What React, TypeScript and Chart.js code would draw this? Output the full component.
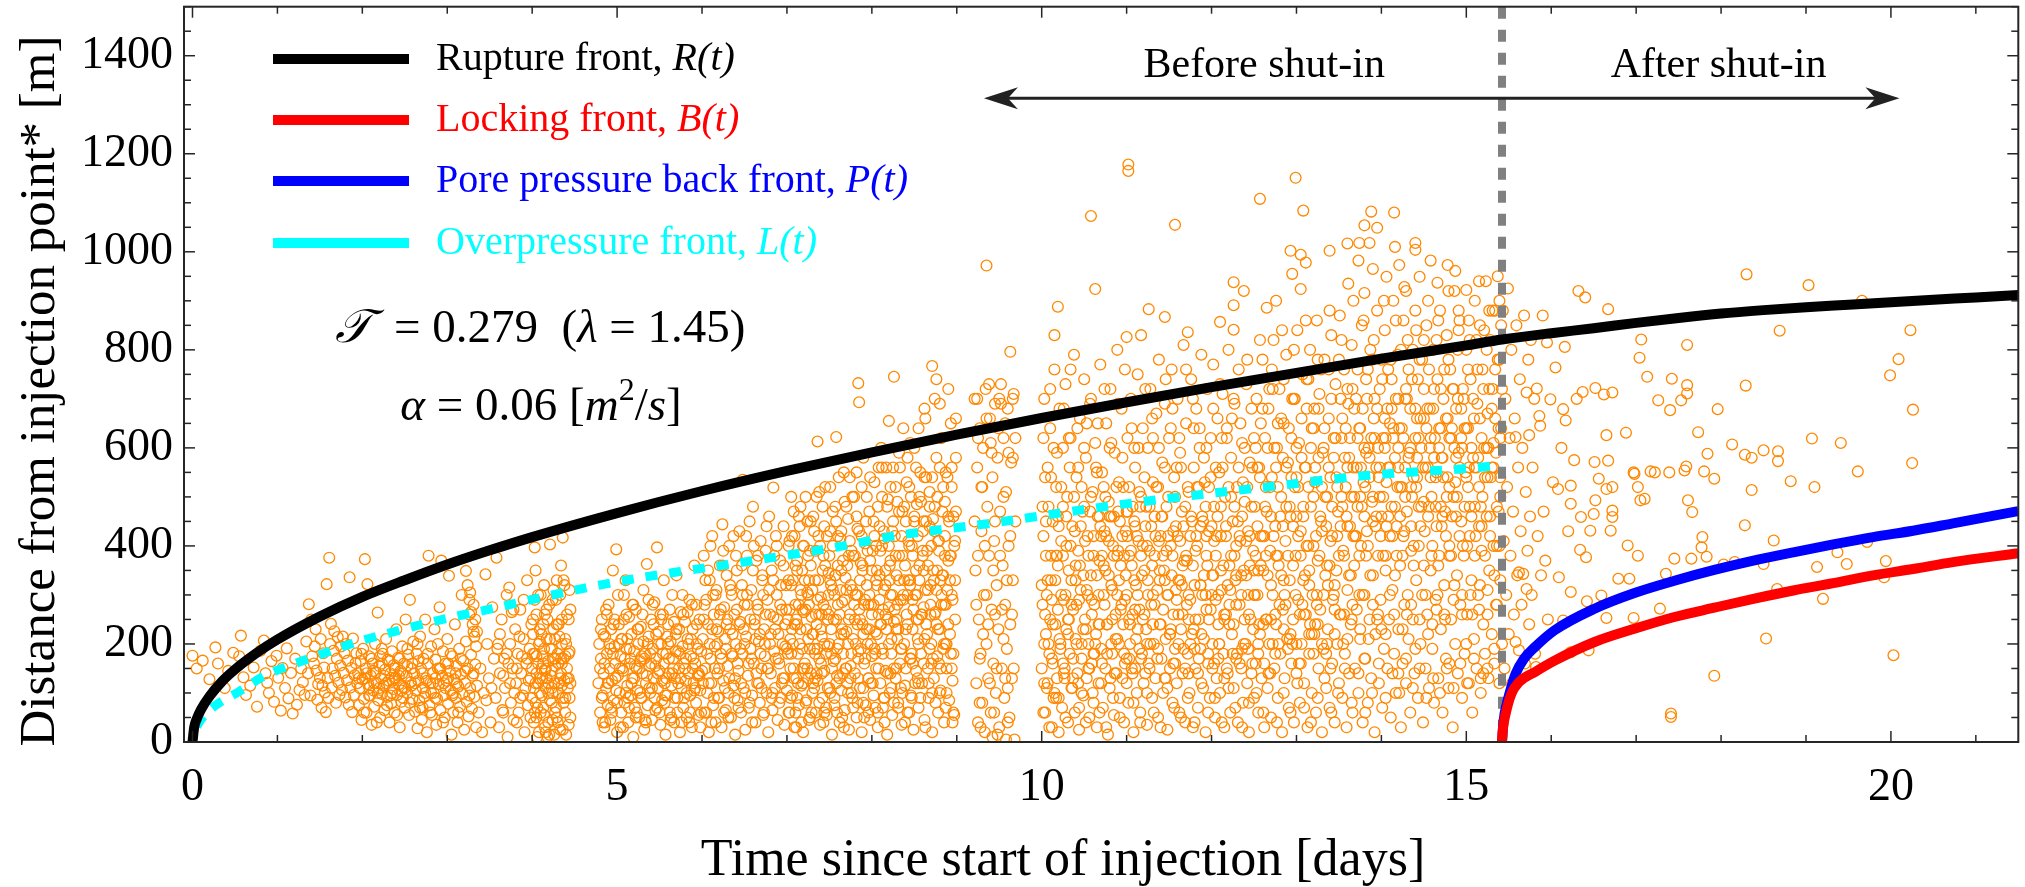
import React, { useEffect, useRef } from "react";
import { Chart, registerables } from "chart.js";

Chart.register(...registerables);

const SERIF = '"Liberation Serif", "DejaVu Serif", serif';

// ---------- axes ----------
const X_MIN = -0.1;
const X_MAX = 21.5;
const Y_MIN = 0;
const Y_MAX = 1500;
const xMajorTicks = [0, 5, 10, 15, 20];
const yMajorTicks = [0, 200, 400, 600, 800, 1000, 1200, 1400];
const xMinorStep = 1;
const yMinorStep = 50;
const xTitle = "Time since start of injection [days]";
const yTitle = "Distance from injection point* [m]";

// ---------- shut-in ----------
const shutInDay = 15.42;

// ---------- model fronts ----------
const ruptureDays = [0, 0.02, 0.05, 0.1, 0.2, 0.35, 0.5, 0.75, 1, 1.5, 2, 2.5, 3, 3.5, 4, 5, 6, 7, 8, 9, 10, 11, 12, 13, 14, 15, 15.42, 16, 16.5, 17, 17.5, 18, 18.5, 19, 19.5, 20, 20.5, 21, 21.5];
const ruptureDist = [0, 30, 47, 66, 93, 124, 148, 181, 209, 256, 296, 330, 362, 391, 418, 467, 512, 553, 591, 627, 661, 693, 724, 753, 782, 809, 821, 834, 844, 855, 865, 874, 881, 887, 892, 897, 902, 907, 912];

const overDays = [0.05, 0.1, 0.25, 0.53, 0.85, 1.37, 1.92, 2.48, 2.99, 3.5, 4.06, 4.62, 5.17, 5.75, 6.34, 6.89, 7.5, 8.29, 9.39, 10.49, 11.59, 12.69, 13.85, 15.0, 15.42];
const overDist = [32, 46, 72, 101, 135, 170, 203, 230, 252, 271, 293, 314, 332, 348, 363, 378, 395, 421, 446, 474, 499, 521, 544, 558, 565];

const poreDays = [15.42, 15.44, 15.48, 15.53, 15.58, 15.68, 15.81, 16.04, 16.51, 16.98, 17.45, 17.92, 18.38, 18.85, 19.32, 19.79, 20.26, 20.73, 21.5];
const poreDist = [0, 45, 80, 112, 139, 170, 194, 228, 272, 304, 329, 351, 370, 387, 403, 418, 431, 446, 471];

const lockDays = [15.42, 15.43, 15.46, 15.53, 15.62, 15.81, 16.04, 16.51, 16.98, 17.45, 17.92, 18.38, 18.85, 19.32, 19.79, 20.26, 20.73, 21.5];
const lockDist = [0, 25, 55, 98, 122, 143, 166, 204, 231, 255, 274, 292, 309, 324, 340, 353, 367, 385];

// ---------- seismic events: flat pairs [time in 0.01 day, distance m] ----------
const eventsEarly = [0,176, 5,150, 12,166, 20,128, 27,193, 30,160, 38,110, 42,145, 48,182, 55,175, 57,217, 60,132, 63,96, 68,115, 72,152, 76,72, 80,186, 84,207, 86,140, 88,121, 90,100, 93,165, 96,82, 99,176, 101,131, 104,64, 106,151, 109,110, 111,191, 113,89, 116,141, 118,58, 121,170, 123,76, 126,106, 128,150, 130,122,
132,96, 134,205, 136,140, 137,281, 139,95, 140,250, 141,175, 143,160, 144,195, 145,230, 146,146, 147,86, 148,118, 150,131, 151,210, 152,70, 153,115, 154,181, 155,152, 156,101, 157,61, 158,322, 159,130, 160,90, 161,376, 162,200, 163,241, 164,111, 165,150, 166,186, 167,226, 168,135, 169,80, 170,170, 171,214, 172,121, 173,96, 174,156, 175,195, 176,106, 177,215, 178,141, 179,181, 180,91, 181,200, 182,126, 183,166, 184,76, 185,336, 186,111, 187,151, 188,61, 189,211, 190,96, 191,136, 192,161, 193,181, 194,120];

const eventsDay2to4 = [195,140, 196,75, 197,110, 198,165, 199,45, 200,128, 201,190, 202,88, 203,373, 204,150, 205,60, 206,322, 207,118, 208,175, 209,95, 210,135, 211,35, 212,160, 213,105, 214,72, 215,200, 216,142, 217,120, 218,264, 219,85, 220,155, 221,50, 222,130, 223,98, 224,180, 225,115, 226,65, 227,148, 228,210, 229,92, 230,168, 231,125, 232,40, 233,140, 234,78, 235,185, 236,108, 237,157, 238,60, 239,132, 240,230, 241,96, 242,172, 243,118, 244,30, 245,145, 246,82, 247,195, 248,112, 249,160, 250,70, 251,250, 252,135, 253,100, 254,178, 255,55, 256,290, 257,122, 258,150, 259,88, 260,205,
203,130, 208,110, 213,145, 218,100, 223,160, 228,120, 233,95, 238,150, 243,135, 248,90, 253,155, 258,115, 221,175, 236,125, 246,105,
261,140, 262,62, 263,105, 264,180, 265,28, 266,125, 267,85, 268,215, 269,150, 270,45, 271,110, 272,170, 273,92, 274,250, 275,130, 276,20, 277,160, 278,380, 279,75, 280,120, 281,195, 282,55, 283,140, 284,100, 285,230, 286,168, 287,35, 288,88, 289,150, 290,118, 291,275, 292,65, 293,370, 294,135, 295,185, 296,95, 297,50, 298,160, 299,125, 300,210, 301,78, 302,339, 303,145, 304,105, 305,15, 306,175, 307,60, 308,128, 309,240, 310,90, 311,155, 312,40, 313,113, 314,190, 315,72, 316,138, 317,300, 318,98, 319,165, 320,25, 321,120, 322,205, 323,82, 324,150, 325,52, 326,260, 327,110, 328,178, 329,68, 330,135, 331,225, 332,92, 333,158, 334,30, 335,115,
266,165, 271,70, 276,125, 281,100, 286,130, 291,150, 296,120, 301,160, 306,95, 311,120, 316,170, 321,145, 326,95, 331,140,
322,349, 324,320, 326,290, 328,265, 330,240, 332,215, 334,195, 327,305, 331,280, 333,250, 335,225,
337,60, 339,150, 341,20, 343,100, 345,342, 347,200, 349,130, 351,40, 353,275, 355,170, 346,85, 352,110,
357,90, 358,376, 359,190, 361,30, 362,140, 364,250, 365,65, 367,170, 368,110, 370,300, 371,10, 373,315, 374,200, 375,80, 377,150, 378,45, 380,230, 381,120, 383,180, 384,60, 386,270, 387,140, 389,95, 390,210, 391,20, 393,160, 394,330, 395,75, 396,125, 397,190, 398,50, 399,240, 360,200, 366,135, 372,160, 379,100, 385,215, 392,110, 376,265, 382,40, 388,175,
400,150, 400,90, 401,220, 402,40, 403,397, 403,180, 404,120, 405,260, 406,70, 407,160, 408,200, 408,20, 409,130, 410,300, 411,95, 412,175, 413,240, 414,55, 415,145, 416,110, 417,210, 418,10, 419,165, 420,280, 421,403, 421,85, 422,135, 423,190, 424,45, 425,230, 426,120, 427,155, 428,70, 429,330, 430,180, 431,100, 432,215, 433,25, 434,140, 435,250, 436,417, 436,90, 437,170, 438,125, 439,60, 440,200, 441,150, 442,110, 443,35, 444,185, 445,270,
402,110, 405,175, 409,205, 412,130, 416,150, 419,100, 423,145, 427,210, 431,160, 435,115, 439,175, 443,130, 404,80, 414,190, 424,100, 434,170, 444,90, 418,250, 428,290, 438,320, 410,60, 420,15, 430,40, 440,15,
401,250, 403,60, 405,140, 407,300, 409,100, 411,220, 413,160, 415,30, 417,270, 419,120, 421,190, 423,80, 425,310, 427,170, 429,50, 431,240, 433,130, 435,200, 437,330, 439,90, 441,260, 443,180, 445,120, 404,350, 414,320, 424,290, 434,360, 444,310, 406,10, 416,20, 426,15, 436,25, 362,220, 366,60, 370,180, 374,120, 378,270, 382,150, 386,90, 390,290, 394,170, 398,130,
196,130, 199,180, 202,60, 205,140, 208,95, 211,170, 214,120, 217,40, 220,110, 223,190, 226,135, 229,75, 232,165, 235,100, 238,130, 241,55, 244,170, 247,140, 250,110, 253,190, 256,80, 259,160, 262,120, 265,200, 268,70, 271,140, 274,100, 277,180, 280,60, 283,120, 286,90, 289,200, 292,150, 295,40, 298,110, 301,130, 304,180, 307,100, 310,140, 313,60,
401,180, 403,290, 405,50, 407,120, 409,230, 411,150, 413,70, 415,260, 417,130, 419,40, 421,210, 423,110, 425,170, 427,60, 429,240, 431,120, 433,300, 435,160, 437,80, 439,210, 441,130, 443,250, 445,50];

const eventsDay5to7 = [478,120, 479,200, 480,60, 481,170, 482,250, 483,95, 484,140, 485,30, 486,215, 487,110, 488,180, 489,75, 490,280, 491,150, 492,45, 493,230, 494,125, 495,350, 496,85, 497,195, 498,160, 499,393, 500,20, 501,135, 502,240, 503,100, 504,175, 505,60, 506,210, 507,145, 508,300, 509,80, 510,330, 511,190, 512,115, 513,40, 514,255, 515,160, 516,95, 517,220, 518,130, 519,10, 520,185, 521,70, 522,270, 523,150, 524,105, 525,200, 526,50, 527,165, 528,235, 529,90, 530,140, 531,310, 532,25, 533,180, 534,120, 535,363, 536,75, 537,215, 538,155, 539,100, 540,250, 541,45, 542,190, 543,130, 544,285, 545,65, 546,170, 547,397, 548,110, 549,225, 550,145, 551,35, 552,200, 553,85, 554,260, 555,160, 556,120, 557,15, 558,180, 559,95, 560,240, 561,140, 562,60, 563,205, 564,115, 565,300, 566,170, 567,40, 568,130, 569,220, 570,340, 571,90, 572,185, 573,150, 574,20, 575,265, 576,110, 577,195, 578,70, 579,160, 580,245, 581,125, 582,50, 583,210, 584,140, 585,290, 586,95, 587,175, 588,30, 589,230, 590,120, 591,360, 592,160, 593,80, 594,200, 595,135, 596,55, 597,250, 598,105, 599,185, 600,145,
601,210, 602,380, 603,60, 604,150, 605,290, 606,100, 607,240, 608,20, 609,330, 610,170, 611,120, 612,420, 613,75, 614,260, 615,195, 616,40, 617,310, 618,140, 619,225, 620,90, 621,360, 622,180, 623,30, 624,444, 625,125, 626,275, 627,210, 628,65, 629,340, 630,155, 631,100, 632,400, 633,230, 634,50, 635,300, 636,175, 637,115, 638,260, 639,15, 640,200, 641,350, 642,85, 643,145, 644,430, 645,245, 646,60, 647,320, 648,535, 648,180, 649,110, 650,280, 651,25, 652,215, 653,380, 654,135, 655,70, 656,450, 657,190, 658,310, 659,95, 660,480, 661,160, 662,240, 663,40, 664,370, 665,120, 666,270, 667,205, 668,80, 669,410, 670,150, 671,330, 672,55, 673,230, 674,175, 675,390, 676,100, 677,290, 678,20, 679,460, 680,200, 681,140, 682,350, 683,65, 684,519, 684,255, 685,185, 686,110, 687,420, 688,300, 689,45, 690,220, 691,160, 692,370, 693,90, 694,270, 695,130, 696,440, 697,35, 698,195, 699,320, 700,105,
481,230, 483,40, 485,160, 487,270, 489,120, 491,200, 493,70, 495,180, 497,250, 499,105, 501,300, 503,150, 505,210, 507,30, 509,170, 511,260, 513,90, 515,190, 517,120, 519,280, 521,155, 523,60, 525,230, 527,100, 529,175, 531,205, 533,45, 535,135, 537,290, 539,180, 541,110, 543,240, 545,155, 547,70, 549,200, 551,260, 553,125, 555,330, 557,95, 559,215, 561,170, 563,45, 565,140, 567,245, 569,185, 571,60, 573,230, 575,130, 577,300, 579,90, 581,170, 583,265, 585,40, 587,210, 589,150, 591,105, 593,280, 595,190, 597,135, 599,60, 602,250, 604,330, 606,180, 608,120, 610,400, 612,230, 614,90, 616,300, 618,200, 620,150, 622,270, 624,360, 626,60, 628,190, 630,250, 632,130, 634,310, 636,220, 638,90, 640,380, 642,160, 644,240, 646,120, 648,300, 650,200, 652,420, 654,280, 656,80, 658,170, 660,350, 662,250, 664,140, 666,380, 668,220, 670,110, 672,300, 674,200, 676,440, 678,150, 680,260, 682,90, 684,330, 686,230, 688,400, 690,170, 692,280, 694,120, 696,360, 698,240, 700,190,
480,150, 482,90, 484,220, 486,40, 488,260, 490,120, 492,190, 494,60, 496,240, 498,130, 500,80, 502,200, 504,30, 506,150, 508,250, 510,100, 512,210, 514,70, 516,170, 518,280, 520,130, 522,50, 524,230, 526,150, 528,90, 530,260, 532,170, 534,40, 536,200, 538,110, 540,160, 542,280, 544,90, 546,220, 548,140, 550,60, 552,250, 554,180, 556,80, 558,130, 560,200, 562,270, 564,50, 566,150, 568,90, 570,230, 572,120, 574,180, 576,40, 578,260, 580,150, 582,100, 584,200, 586,60, 588,280, 590,170, 592,110, 594,240, 596,140, 598,30,
601,120, 603,280, 605,60, 607,350, 609,200, 611,40, 613,300, 615,150, 617,230, 619,90, 621,260, 623,170, 625,390, 627,110, 629,240, 631,50, 633,320, 635,180, 637,420, 639,130, 641,270, 643,70, 645,190, 647,360, 649,230, 651,100, 653,300, 655,160, 657,250, 659,40, 661,400, 663,210, 665,280, 667,120, 669,180, 671,340, 673,60, 675,260, 677,150, 679,310, 681,220, 683,100, 685,380, 687,170, 689,250, 691,80, 693,320, 695,200, 697,130, 699,270];

const eventsDay7to10 = [701,250, 702,60, 703,410, 704,150, 705,320, 706,95, 707,200, 708,470, 709,30, 710,280, 711,130, 712,370, 713,180, 714,75, 715,440, 716,230, 717,115, 718,350, 719,20, 720,265, 721,160, 722,500, 723,85, 724,305, 725,210, 726,45, 727,390, 728,140, 729,255, 730,100, 731,460, 732,190, 733,330, 734,60, 735,240, 736,613, 736,125, 737,420, 738,170, 739,35, 740,295, 741,215, 742,90, 743,380, 744,145, 745,520, 746,270, 747,55, 748,195, 749,345, 750,110, 751,430, 752,230, 753,15, 754,310, 755,165, 756,75, 757,480, 758,622, 758,250, 759,135, 760,360, 761,200, 762,40, 763,415, 764,105, 765,285, 766,180, 767,550, 768,65, 769,335, 770,225, 771,120, 772,455, 773,25, 774,260, 775,155, 776,390, 777,90, 778,210, 779,500, 780,140, 781,300, 782,50, 783,435, 784,732, 784,185, 785,693, 785,270, 786,110, 787,365, 788,20, 789,240, 790,580, 791,160, 792,405, 793,75, 794,320, 795,200, 796,130, 797,470, 798,45, 799,280, 800,175, 801,390, 802,95, 803,530, 804,225, 805,150, 806,350, 807,30, 808,260, 809,440, 810,120, 811,600, 812,190, 813,70, 814,310, 815,415, 816,145, 817,230, 818,15, 819,495, 820,275, 821,100, 822,370, 823,180, 824,55, 825,560, 826,245, 827,420, 828,130, 829,340, 830,210, 831,80, 832,470, 833,160, 834,290, 835,35, 836,380, 837,640, 838,200, 839,115, 840,450, 841,260, 842,60, 843,330, 844,520, 845,170, 846,95, 847,400, 848,230, 849,25, 850,600, 851,300, 852,145, 853,485, 854,210, 855,70, 856,360, 857,550, 858,180, 859,120, 860,430, 861,275, 862,45, 863,660, 864,240, 865,390, 866,150, 867,90, 868,510, 869,320, 870,200, 871,20, 872,455, 873,130, 874,700, 875,265, 876,580, 877,175, 878,60, 879,410, 880,230, 881,105, 882,620, 883,340, 884,190, 885,40, 886,490, 887,280, 888,150, 889,540, 890,370, 891,85, 892,220, 893,650, 894,300, 895,125, 896,460, 897,55, 898,250, 899,580,
705,180, 712,240, 718,150, 725,300, 731,120, 738,260, 744,200, 751,330, 757,170, 764,220, 770,150, 777,310, 783,240, 790,110, 796,280, 803,190, 809,340, 816,260, 822,140, 829,230, 835,190, 842,300, 848,160, 855,250, 861,350, 868,190, 874,260, 881,330, 887,200, 894,150, 826,745, 871,767, 876,740, 862,680, 845,610, 855,640, 880,690, 890,720, 899,660, 820,655, 832,590, 812,560,
702,330, 704,210, 706,420, 708,130, 710,360, 712,90, 714,280, 716,480, 718,190, 720,400, 722,270, 724,150, 726,330, 728,450, 730,220, 732,110, 734,390, 736,290, 738,510, 740,160, 742,350, 744,440, 746,70, 748,250, 750,380, 752,180, 754,470, 756,300, 758,120, 760,420, 762,260, 764,350, 766,140, 768,490, 770,310, 772,200, 774,540, 776,100, 778,380, 780,250, 782,460, 784,170, 786,330, 788,420, 790,220, 792,290, 794,500, 796,130, 798,370, 800,260, 802,450, 804,180, 806,320, 808,560, 810,240, 812,400, 814,90, 816,350, 818,480, 820,200, 822,300, 824,430, 826,150, 828,520, 830,280, 832,380, 834,110, 836,470, 838,330, 840,230, 842,580, 844,400, 846,170, 848,290, 850,450, 852,350, 854,130, 856,500, 858,260, 860,390, 862,210, 864,540, 866,310, 868,440, 870,160, 872,350, 874,480, 876,240, 878,410, 880,100, 882,300, 884,520, 886,380, 888,200, 890,460, 892,330, 894,560, 896,180, 898,410,
703,60, 711,30, 719,120, 727,50, 735,140, 743,40, 751,100, 759,60, 767,30, 775,130, 783,80, 791,50, 799,120, 807,60, 815,40, 823,110, 831,70, 839,40, 847,90, 855,120, 863,30, 871,100, 879,160, 887,70, 895,40,
709,240, 717,300, 725,380, 733,180, 741,260, 749,300, 757,340, 765,230, 773,380, 781,300, 789,350, 797,230, 805,400, 813,270, 821,360, 829,250, 837,300, 845,330, 853,250, 861,450, 869,280, 877,350, 885,280, 893,380,
701,180, 702,400, 703,270, 704,90, 705,500, 706,230, 707,330, 708,150, 709,420, 710,60, 711,250, 712,350, 713,120, 714,460, 715,200, 716,310, 717,40, 718,270, 719,400, 720,150, 721,330, 722,80, 723,230, 724,450, 725,130, 726,280, 727,190, 728,360, 729,60, 730,310, 731,220, 732,430, 733,130, 734,260, 735,500, 736,190, 737,330, 738,80, 739,400, 740,230, 741,140, 742,480, 743,280, 744,60, 745,360, 746,180, 747,420, 748,110, 749,260, 750,200, 751,520, 752,320, 753,150, 754,400, 755,250, 756,90, 757,340, 758,450, 759,190, 760,280, 761,540, 762,130, 763,310, 764,430, 765,50, 766,370, 767,220, 768,290, 769,150, 770,480, 771,360, 772,100, 773,250, 774,410, 775,320, 776,180, 777,500, 778,70, 779,280, 780,380, 781,200, 782,550, 783,300, 784,130, 785,430, 786,250, 787,190, 788,520, 789,360, 790,80, 791,280, 792,170, 793,450, 794,230, 795,390, 796,60, 797,300, 798,540, 799,200, 800,350, 801,120, 802,280, 803,420, 804,70, 805,330, 806,220, 807,480, 808,150, 809,290, 810,390, 811,240, 812,500, 813,180, 814,430, 815,90, 816,320, 817,560, 818,250, 819,140, 820,400, 821,330, 822,520, 823,210, 824,300, 825,450, 826,80, 827,270, 828,380, 829,150, 830,490, 831,230, 832,330, 833,560, 834,190, 835,420, 836,100, 837,290, 838,480, 839,360, 840,150, 841,530, 842,240, 843,410, 844,60, 845,320, 846,500, 847,180, 848,380, 849,270, 850,460, 851,120, 852,560, 853,300, 854,420, 855,200, 856,330, 857,90, 858,490, 859,260, 860,380, 861,160, 862,540, 863,310, 864,450, 865,220, 866,360, 867,120, 868,480, 869,260, 870,400, 871,540, 872,170, 873,330, 874,430, 875,80, 876,310, 877,500, 878,230, 879,390, 880,560, 881,150, 882,280, 883,470, 884,340, 885,200, 886,420, 887,550, 888,100, 889,310, 890,240, 891,450, 892,380, 893,180, 894,520, 895,290, 896,60, 897,400, 898,330, 899,470,
921,700, 922,350, 923,120, 924,560, 925,40, 926,250, 927,640, 928,180, 929,430, 930,80, 931,600, 932,300, 933,20, 934,720, 935,972, 935,200, 936,480, 937,130, 938,380, 939,660, 940,60, 941,270, 942,540, 943,160, 944,410, 945,690, 946,100, 947,320, 948,580, 949,230, 950,30, 951,470, 952,730, 953,150, 954,360, 955,620, 956,90, 957,280, 958,510, 959,190, 960,680, 961,400, 962,50, 963,796, 963,240, 964,570, 965,130, 966,330, 967,710, 968,5, 969,450, 960,110, 925,380, 930,520, 940,610, 950,700, 955,210, 945,450, 935,300, 927,80, 957,650, 966,580, 942,10, 948,15, 958,5,
921,450, 923,280, 925,620, 927,170, 929,520, 931,220, 933,400, 935,660, 937,240, 939,120, 941,590, 943,350, 945,260, 947,150, 949,640, 951,380, 953,270, 955,500, 957,130, 959,330, 961,590, 963,420, 965,260, 967,150, 969,620, 924,700, 938,730, 952,690, 966,700, 928,30, 944,60, 960,40];

const eventsDay10to12 = [1000,150, 1001,480, 1002,60, 1003,700, 1004,260, 1005,380, 1006,110, 1007,560, 1008,200, 1009,30, 1010,640, 1011,330, 1012,170, 1013,450, 1014,90, 1015,830, 1015,760, 1016,240, 1017,520, 1018,130, 1019,888, 1019,360, 1020,20, 1021,680, 1022,190, 1023,410, 1024,70, 1025,600, 1026,290, 1027,150, 1028,730, 1029,230, 1030,500, 1031,40, 1032,350, 1033,180, 1034,620, 1035,110, 1036,440, 1037,270, 1038,790, 1039,60, 1040,210, 1041,540, 1042,140, 1043,390, 1044,25, 1045,660, 1046,310, 1047,170, 1048,470, 1049,95, 1050,740, 1051,250, 1052,580, 1053,130, 1054,420, 1055,200, 1056,50, 1057,690, 1058,1073, 1058,340, 1059,160, 1060,510, 1061,80, 1062,280, 1063,924, 1063,610, 1064,220, 1065,30, 1066,460, 1067,120, 1068,370, 1069,770, 1070,190, 1071,550, 1072,70, 1073,300, 1074,430, 1075,150, 1076,650, 1077,240, 1078,15, 1079,490, 1080,110, 1081,720, 1082,320, 1083,180, 1084,400, 1085,55, 1086,590, 1087,260, 1088,140, 1089,800, 1090,470, 1091,200, 1092,90, 1093,360, 1094,680, 1095,130, 1096,520, 1097,40, 1098,290, 1099,430, 1100,826, 1100,170, 1101,620, 1102,1178, 1102,1165, 1102,80, 1103,380, 1104,240, 1105,700, 1106,150, 1107,480, 1108,20, 1109,330, 1110,560, 1111,210, 1112,100, 1113,750, 1114,410, 1115,270, 1116,60, 1117,830, 1117,500, 1118,180, 1119,640, 1120,120, 1121,350, 1122,440, 1123,230, 1124,35, 1125,600, 1126,883, 1126,160, 1127,390, 1128,720, 1129,280, 1130,90, 1131,530, 1132,200, 1133,460, 1134,130, 1135,670, 1136,310, 1137,50, 1138,780, 1139,240, 1140,420, 1141,170, 1142,570, 1143,100, 1144,350, 1145,867, 1145,690, 1146,210, 1147,480, 1148,25, 1149,300, 1150,620, 1151,150, 1152,400, 1153,760, 1154,80, 1155,260, 1156,540, 1157,1055, 1157,190, 1158,440, 1159,120, 1160,700, 1161,330, 1162,60, 1163,590, 1164,230, 1165,470, 1166,140, 1167,810, 1168,370, 1169,40, 1170,650, 1171,280, 1172,836, 1172,180, 1173,510, 1174,100, 1175,420, 1176,740, 1177,220, 1178,30, 1179,560, 1180,320, 1181,150, 1182,680, 1183,400, 1184,70, 1185,250, 1186,600, 1187,190, 1188,790, 1189,460, 1190,110, 1191,340, 1192,530, 1193,20, 1194,270, 1195,720, 1196,160, 1197,430, 1198,90, 1199,620, 1200,300, 1201,200, 1202,770, 1203,480, 1204,50, 1205,380, 1206,130, 1207,660, 1208,240, 1209,550, 1210,857, 1210,100, 1211,420, 1212,310, 1213,710, 1214,180, 1215,30, 1216,500, 1217,260, 1218,640, 1219,140, 1220,800, 1221,360, 1222,60, 1223,580, 1224,220, 1225,450, 1226,938, 1226,891, 1226,841, 1226,110, 1227,690, 1228,330, 1229,170, 1230,520, 1231,40, 1232,760, 1233,280, 1234,410, 1235,150, 1236,610, 1237,80, 1238,920, 1238,350, 1239,490, 1240,200, 1241,730, 1242,120, 1243,430, 1244,20, 1245,570, 1246,250, 1247,680, 1248,160, 1249,390, 1250,90,
1005,220, 1012,290, 1018,380, 1025,160, 1032,250, 1040,330, 1047,200, 1054,300, 1061,180, 1068,240, 1075,350, 1082,200, 1089,300, 1096,240, 1103,170, 1110,270, 1117,380, 1124,200, 1131,300, 1138,410, 1145,330, 1152,230, 1159,290, 1166,360, 1173,250, 1180,190, 1187,320, 1194,420, 1201,340, 1208,170, 1215,260, 1222,310, 1229,400, 1236,190, 1243,300, 1250,350, 1070,420, 1080,460, 1090,390, 1100,470, 1110,440,
1001,280, 1003,120, 1005,450, 1007,330, 1009,180, 1011,540, 1013,240, 1015,100, 1017,380, 1019,460, 1021,210, 1023,300, 1025,480, 1027,130, 1029,400, 1031,250, 1033,560, 1035,330, 1037,170, 1039,430, 1041,280, 1043,120, 1045,360, 1047,520, 1049,230, 1051,410, 1053,310, 1055,150, 1057,470, 1059,260, 1061,380, 1063,200, 1065,550, 1067,300, 1069,440, 1071,160, 1073,360, 1075,500, 1077,240, 1079,410, 1081,130, 1083,310, 1085,460, 1087,210, 1089,380, 1091,530, 1093,270, 1095,420, 1097,180, 1099,340, 1101,470, 1103,250, 1105,390, 1107,140, 1109,450, 1111,320, 1113,230, 1115,510, 1117,170, 1119,400, 1121,260, 1123,480, 1125,330, 1127,150, 1129,440, 1131,240, 1133,380, 1135,520, 1137,190, 1139,350, 1141,460, 1143,270, 1145,130, 1147,390, 1149,500, 1151,220, 1153,340, 1155,430, 1157,160, 1159,560, 1161,260, 1163,410, 1165,320, 1167,190, 1169,480, 1171,370, 1173,140, 1175,290, 1177,450, 1179,230, 1181,390, 1183,520, 1185,170, 1187,440, 1189,300, 1191,210, 1193,480, 1195,360, 1197,250, 1199,540, 1201,150, 1203,410, 1205,290, 1207,460, 1209,200, 1211,350, 1213,560, 1215,130, 1217,420, 1219,320, 1221,240, 1223,500, 1225,180, 1227,380, 1229,280, 1231,450, 1233,160, 1235,340, 1237,530, 1239,250, 1241,410, 1243,190, 1245,360, 1247,480, 1249,230,
1002,620, 1010,720, 1018,590, 1026,680, 1034,760, 1042,640, 1050,600, 1058,700, 1066,650, 1074,720, 1082,610, 1090,690, 1098,760, 1106,640, 1114,600, 1122,720, 1130,660, 1138,600, 1146,740, 1154,680, 1162,620, 1170,760, 1178,700, 1186,640, 1194,600, 1202,680, 1210,730, 1218,620, 1226,700, 1234,650, 1242,780, 1250,620,
1004,60, 1012,30, 1020,90, 1028,50, 1036,110, 1044,70, 1052,40, 1060,100, 1068,60, 1076,30, 1084,90, 1092,50, 1100,120, 1108,80, 1116,40, 1124,100, 1132,60, 1140,30, 1148,110, 1156,70, 1164,50, 1172,90, 1180,40, 1188,120, 1196,60, 1204,90, 1212,40, 1220,110, 1228,70, 1236,30, 1244,80,
1000,320, 1002,420, 1003,200, 1004,540, 1006,300, 1007,120, 1008,480, 1010,250, 1011,380, 1013,160, 1014,600, 1016,330, 1017,90, 1019,270, 1020,440, 1022,200, 1023,520, 1025,380, 1026,140, 1028,300, 1029,460, 1031,220, 1032,620, 1034,400, 1035,280, 1037,130, 1038,500, 1040,360, 1041,200, 1043,560, 1044,290, 1046,440, 1047,100, 1049,340, 1050,480, 1052,230, 1053,650, 1055,380, 1056,150, 1058,500, 1059,290, 1061,420, 1062,180, 1064,560, 1065,340, 1067,240, 1068,460, 1070,120, 1071,380, 1073,520, 1074,280, 1076,420, 1077,180, 1079,340, 1080,600, 1082,460, 1083,250, 1085,380, 1086,140, 1088,520, 1089,210, 1091,330, 1092,450, 1094,280, 1095,580, 1097,380, 1098,160, 1100,300, 1101,420, 1103,520, 1104,200, 1106,360, 1107,260, 1109,600, 1110,150, 1112,420, 1113,300, 1115,190, 1116,480, 1118,340, 1119,250, 1121,540, 1122,140, 1124,400, 1125,300, 1127,480, 1128,200, 1130,360, 1131,620, 1133,280, 1134,420, 1136,170, 1137,520, 1139,330, 1140,240, 1142,460, 1143,380, 1145,560, 1146,130, 1148,300, 1149,420, 1151,220, 1152,640, 1154,380, 1155,160, 1157,500, 1158,310, 1160,420, 1161,200, 1163,330, 1164,560, 1166,260, 1167,440, 1169,150, 1170,380, 1172,520, 1173,300, 1175,200, 1176,460, 1178,360, 1179,640, 1181,250, 1182,420, 1184,140, 1185,520, 1187,320, 1188,220, 1190,450, 1191,580, 1193,300, 1194,380, 1196,180, 1197,520, 1199,270, 1200,440, 1202,340, 1203,160, 1205,560, 1206,420, 1208,300, 1209,200, 1211,480, 1212,620, 1214,360, 1215,250, 1217,440, 1218,150, 1220,520, 1221,280, 1223,380, 1224,660, 1226,240, 1227,480, 1229,340, 1230,180, 1232,560, 1233,420, 1235,300, 1236,460, 1238,200, 1239,600, 1241,340, 1242,520, 1244,260, 1245,420, 1247,140, 1248,560, 1250,300];

const eventsDay12to15 = [1251,480, 1252,160, 1253,700, 1254,300, 1255,60, 1256,560, 1257,1108, 1257,220, 1258,420, 1259,130, 1260,780, 1261,350, 1262,30, 1263,620, 1264,250, 1265,886, 1265,470, 1266,110, 1267,680, 1268,200, 1269,390, 1270,50, 1271,540, 1272,300, 1273,820, 1274,150, 1275,440, 1276,900, 1276,240, 1277,600, 1278,90, 1279,360, 1280,720, 1281,180, 1282,500, 1283,20, 1284,270, 1285,650, 1286,130, 1287,410, 1288,790, 1289,210, 1290,570, 1291,70, 1292,330, 1293,1002, 1293,460, 1294,160, 1295,955, 1295,700, 1296,250, 1297,40, 1298,520, 1299,1151, 1299,380, 1300,140, 1301,840, 1302,290, 1303,610, 1304,80, 1305,994, 1305,924, 1305,430, 1306,200, 1307,750, 1308,1084, 1308,330, 1309,120, 1310,560, 1311,978, 1311,260, 1312,680, 1313,30, 1314,400, 1315,180, 1316,800, 1317,480, 1318,100, 1319,300, 1320,640, 1321,220, 1322,530, 1323,60, 1324,860, 1325,370, 1326,150, 1327,710, 1328,270, 1329,450, 1330,20, 1331,590, 1332,190, 1333,780, 1334,340, 1335,110, 1336,500, 1337,230, 1338,660, 1339,1002, 1339,70, 1340,410, 1341,830, 1342,160, 1343,290, 1344,580, 1345,40, 1346,730, 1347,350, 1348,200, 1349,470, 1350,120, 1351,870, 1352,260, 1353,620, 1354,90, 1355,390, 1356,760, 1357,180, 1358,520, 1359,30, 1360,1017, 1360,310, 1361,935, 1361,690, 1362,140, 1363,440, 1364,240, 1365,810, 1366,60, 1367,560, 1368,360, 1369,150, 1370,700, 1371,270, 1372,480, 1373,982, 1373,100, 1374,1018, 1374,640, 1375,210, 1376,400, 1377,850, 1378,40, 1379,530, 1380,1054, 1380,916, 1380,300, 1381,170, 1382,740, 1383,430, 1384,80, 1385,600, 1386,1018, 1386,250, 1387,800, 1388,1082, 1388,130, 1389,490, 1390,965, 1390,340, 1391,660, 1392,20, 1393,220, 1394,560, 1395,1049, 1395,880, 1396,380, 1397,120, 1398,720, 1399,290, 1400,460, 1401,70, 1402,620, 1403,190, 1404,840, 1405,350, 1406,949, 1406,530, 1407,150, 1408,760, 1409,250, 1410,420, 1411,50, 1412,680, 1413,310, 1414,900, 1415,1080, 1415,180, 1416,1010, 1416,580, 1417,100, 1418,440, 1419,790, 1420,230, 1421,973, 1421,640, 1422,360, 1423,30, 1424,520, 1425,160, 1426,860, 1427,928, 1427,280, 1428,700, 1429,120, 1430,470, 1431,820, 1432,210, 1433,590, 1434,60, 1435,390, 1436,740, 1437,250, 1438,540, 1439,140, 1440,1018, 1440,1004, 1440,880, 1441,330, 1442,660, 1443,90, 1444,480, 1445,949, 1445,780, 1446,200, 1447,600, 1448,300, 1449,40, 1450,720, 1451,430, 1452,150, 1453,850, 1454,260, 1455,560, 1456,110, 1457,680, 1458,982, 1458,350, 1459,500, 1460,190, 1461,800, 1462,80, 1463,620, 1464,290, 1465,440, 1466,937, 1466,740, 1467,130, 1468,380, 1469,880, 1470,230, 1471,580, 1472,60, 1473,700, 1474,320, 1475,470, 1476,170, 1477,830, 1478,973, 1478,540, 1479,110, 1480,400, 1481,760, 1482,250, 1483,640, 1484,30, 1485,500, 1486,920, 1487,961, 1487,200, 1488,680, 1489,340, 1490,140, 1491,590, 1492,860, 1493,280, 1494,450, 1495,90, 1496,720, 1497,380, 1498,180, 1499,550, 1500,922, 1500,800, 1501,260, 1502,640, 1503,120, 1504,480, 1505,740, 1506,330, 1507,60, 1508,580, 1509,210, 1510,900, 1511,420, 1512,150, 1513,690, 1514,300, 1515,520, 1516,850, 1517,100, 1518,390, 1519,760, 1520,240, 1521,600, 1522,180, 1523,940, 1524,460, 1525,670, 1526,130, 1527,350, 1528,820, 1529,540, 1530,220, 1531,720, 1532,400, 1533,160, 1534,880, 1535,590, 1536,280, 1537,950, 1538,470, 1539,780, 1540,330, 1541,640, 1542,200,
1255,350, 1262,420, 1270,250, 1278,380, 1285,330, 1292,210, 1300,460, 1307,280, 1315,350, 1322,240, 1330,430, 1337,320, 1345,270, 1352,440, 1360,560, 1367,420, 1375,500, 1382,590, 1390,450, 1397,540, 1405,620, 1412,480, 1420,560, 1427,430, 1435,520, 1442,580, 1450,490, 1457,600, 1465,550, 1472,460, 1480,620, 1487,530, 1495,600, 1502,520, 1510,560, 1517,480, 1525,540, 1532,610, 1540,500, 1300,200, 1320,180, 1340,150, 1360,210, 1380,170, 1400,230, 1420,140, 1440,190, 1460,240, 1480,160, 1500,200, 1520,140, 1410,650, 1430,700, 1450,660, 1470,640, 1490,700,
1252,380, 1254,560, 1256,240, 1258,650, 1260,420, 1262,160, 1264,520, 1266,340, 1268,720, 1270,460, 1272,200, 1274,600, 1276,380, 1278,520, 1280,280, 1282,660, 1284,440, 1286,300, 1288,560, 1290,190, 1292,480, 1294,620, 1296,360, 1298,700, 1300,540, 1302,420, 1304,260, 1306,580, 1308,480, 1310,340, 1312,740, 1314,520, 1316,240, 1318,640, 1320,400, 1322,560, 1324,300, 1326,680, 1328,460, 1330,200, 1332,600, 1334,500, 1336,360, 1338,760, 1340,540, 1342,420, 1344,300, 1346,620, 1348,520, 1350,380, 1352,700, 1354,480, 1356,260, 1358,640, 1360,440, 1362,580, 1364,340, 1366,720, 1368,500, 1370,420, 1372,620, 1374,300, 1376,560, 1378,680, 1380,460, 1382,380, 1384,760, 1386,540, 1388,620, 1390,280, 1392,700, 1394,460, 1396,600, 1398,500, 1400,780, 1402,380, 1404,660, 1406,440, 1408,560, 1410,300, 1412,740, 1414,620, 1416,480, 1418,380, 1420,700, 1422,520, 1424,640, 1426,420, 1428,560, 1430,260, 1432,760, 1434,600, 1436,500, 1438,400, 1440,680, 1442,540, 1444,620, 1446,440, 1448,780, 1450,360, 1452,560, 1454,680, 1456,480, 1458,620, 1460,400, 1462,720, 1464,540, 1466,300, 1468,640, 1470,480, 1472,580, 1474,760, 1476,420, 1478,660, 1480,520, 1482,380, 1484,720, 1486,600, 1488,460, 1490,800, 1492,560, 1494,680, 1496,400, 1498,640, 1500,540, 1502,760, 1504,420, 1506,600, 1508,700, 1510,480, 1512,820, 1514,580, 1516,660, 1518,440, 1520,720, 1522,540, 1524,800, 1526,600, 1528,460, 1530,680, 1532,560, 1534,760, 1536,400, 1538,640, 1540,540, 1541,850,
1253,100, 1261,60, 1269,140, 1277,40, 1285,100, 1293,60, 1301,120, 1309,70, 1317,40, 1325,90, 1333,130, 1341,60, 1349,100, 1357,150, 1365,80, 1373,140, 1381,60, 1389,100, 1397,160, 1405,90, 1413,140, 1421,100, 1429,170, 1437,110, 1445,150, 1453,90, 1461,130, 1469,100, 1477,150, 1485,110, 1493,160, 1501,120, 1509,170, 1517,130, 1525,150, 1533,190, 1539,120,
1257,820, 1271,760, 1283,840, 1297,800, 1311,860, 1325,780, 1339,880, 1353,820, 1367,900, 1379,860, 1391,820, 1403,900, 1417,860, 1429,920, 1441,840, 1455,900, 1467,860, 1479,920, 1491,880, 1503,860, 1515,940, 1527,880, 1539,900,
1255,200, 1265,250, 1275,180, 1285,230, 1295,200, 1305,160, 1315,220, 1325,240, 1335,180, 1345,220, 1355,200, 1365,250, 1375,230, 1385,210, 1395,250, 1405,220, 1415,260, 1425,230, 1435,280, 1445,250, 1455,220, 1465,270, 1475,250, 1485,290, 1495,260, 1505,300, 1515,270, 1525,310, 1535,280,
1251,300, 1252,600, 1254,440, 1255,180, 1257,540, 1258,360, 1260,680, 1261,240, 1263,480, 1264,380, 1266,600, 1267,140, 1269,520, 1270,320, 1272,720, 1273,420, 1275,260, 1276,560, 1278,650, 1279,200, 1281,460, 1282,340, 1284,580, 1285,740, 1287,280, 1288,480, 1290,380, 1291,640, 1293,220, 1294,540, 1296,440, 1297,700, 1299,300, 1300,600, 1302,520, 1303,160, 1305,380, 1306,660, 1308,460, 1309,260, 1311,560, 1312,400, 1314,740, 1315,320, 1317,600, 1318,220, 1320,500, 1321,680, 1323,420, 1324,280, 1326,580, 1327,380, 1329,760, 1330,520, 1332,300, 1333,640, 1335,440, 1336,200, 1338,560, 1339,360, 1341,700, 1342,480, 1344,620, 1345,320, 1347,540, 1348,420, 1350,780, 1351,260, 1353,500, 1354,660, 1356,380, 1357,580, 1359,460, 1360,720, 1362,340, 1363,620, 1365,500, 1366,280, 1368,680, 1369,420, 1371,560, 1372,760, 1374,380, 1375,640, 1377,480, 1378,300, 1380,600, 1381,520, 1383,700, 1384,400, 1386,580, 1387,340, 1389,780, 1390,500, 1392,620, 1393,440, 1395,680, 1396,260, 1398,560, 1399,420, 1401,740, 1402,500, 1404,600, 1405,380, 1407,680, 1408,460, 1410,560, 1411,780, 1413,420, 1414,640, 1416,340, 1417,700, 1419,520, 1420,600, 1422,460, 1423,800, 1425,380, 1426,620, 1428,500, 1429,720, 1431,300, 1432,580, 1434,680, 1435,440, 1437,800, 1438,360, 1440,620, 1441,520, 1443,740, 1444,400, 1446,660, 1447,480, 1449,560, 1450,820, 1452,300, 1453,640, 1455,460, 1456,760, 1458,540, 1459,380, 1461,680, 1462,580, 1464,480, 1465,820, 1467,360, 1468,600, 1470,720, 1471,440, 1473,540, 1474,260, 1476,660, 1477,500, 1479,780, 1480,380, 1482,620, 1483,460, 1485,720, 1486,320, 1488,580, 1489,500, 1491,840, 1492,420, 1494,620, 1495,300, 1497,700, 1498,480, 1500,640, 1501,400, 1503,560, 1504,820, 1506,460, 1507,260, 1509,660, 1510,380, 1512,560, 1513,760, 1515,440, 1516,320, 1518,620, 1519,500, 1521,840, 1522,380, 1524,600, 1525,260, 1527,720, 1528,420, 1530,560, 1531,880, 1533,340, 1534,660, 1536,480, 1537,780, 1539,400, 1540,620, 1542,720];

const eventsAfterShutIn = [1543,880, 1544,410, 1545,150, 1546,700, 1547,300, 1548,520, 1549,925, 1550,220, 1551,620, 1552,380, 1553,800, 1554,120, 1555,470, 1556,260, 1557,660, 1558,622, 1558,204, 1559,850, 1560,340, 1561,560, 1562,187, 1562,346, 1563,740, 1564,430, 1565,280, 1566,600, 1567,343, 1568,870, 1569,160, 1570,510, 1571,312, 1571,713, 1572,390, 1573,780, 1574,626, 1574,240, 1575,460, 1576,820, 1577,300, 1578,560, 1580,700, 1581,180, 1582,153, 1583,721, 1584,420, 1586,665, 1587,645, 1588,340, 1590,870, 1591,470, 1593,370, 1595,815, 1596,250, 1599,699, 1602,530, 1605,764, 1608,516, 1609,336, 1612,600, 1614,248, 1614,679, 1616,806, 1617,656, 1620,430, 1623,523, 1623,486, 1623,306, 1623,183, 1627,575, 1630,700, 1632,920, 1634,392, 1635,459, 1637,714, 1640,907, 1641,377, 1642,287, 1644,187, 1646,431, 1650,465, 1651,571, 1652,493, 1652,722, 1656,537, 1659,299, 1662,709, 1665,253, 1665,516, 1665,626, 1667,883, 1667,574, 1670,431, 1672,713, 1672,520, 1672,472, 1672,459,
1679,333, 1688,631, 1690,401, 1692,333, 1697,550, 1697,253, 1698,547, 1702,380, 1702,520, 1704,784, 1705,493, 1706,821, 1710,496, 1713,745, 1717,552, 1722,550, 1726,697, 1728,272, 1735,343, 1739,550, 1740,677, 1741,58, 1741,51, 1742,741, 1745,374, 1753,697, 1757,554, 1759,562, 1760,810, 1760,728, 1760,711, 1761,493, 1765,374, 1766,469, 1773,632, 1777,397, 1778,418, 1780,552, 1783,378, 1784,588, 1792,537, 1792,135, 1796,679, 1803,362, 1813,607, 1816,367, 1828,586, 1828,442, 1829,727, 1830,954, 1836,580, 1836,514, 1850,363, 1850,595, 1853,211, 1862,411, 1866,312, 1867,593, 1867,573, 1869,839, 1882,532, 1903,932, 1907,619, 1910,520, 1913,357, 1920,292, 1937,387, 1941,610, 1948,363, 1961,552, 1966,900, 1972,408, 1992,336, 1994,369, 1999,748, 2003,177, 2009,781, 2023,840, 2025,569, 2026,678];

// ---------- legend / annotation text ----------
const legendItems = [
  { label: "Rupture front, ", symbol: "R(t)", color: "#000000" },
  { label: "Locking front, ", symbol: "B(t)", color: "#FF0000" },
  { label: "Pore pressure back front, ", symbol: "P(t)", color: "#0000FF" },
  { label: "Overpressure front, ", symbol: "L(t)", color: "#00FFFF" },
];
const beforeLabel = "Before shut-in";
const afterLabel = "After shut-in";
const arrowLeftDay = 9.32;
const arrowRightDay = 20.1;
const arrowLevel = 1313;
const phaseLabelLevel = 1356;
const beforeLabelDay = 12.62;
const afterLabelDay = 17.97;

type Run = { t: string; italic?: boolean; sup?: boolean };

function pairs(flat: number[]) {
  const out: { x: number; y: number }[] = [];
  for (let i = 0; i + 1 < flat.length; i += 2) out.push({ x: flat[i] / 100, y: flat[i + 1] });
  return out;
}
function zipXY(xs: number[], ys: number[]) {
  return xs.map((x, i) => ({ x, y: ys[i] }));
}

function drawRuns(ctx: CanvasRenderingContext2D, runs: Run[], x: number, y: number, size: number, color: string, align: "left" | "center") {
  const fontOf = (r: Run) => `${r.italic ? "italic " : ""}${r.sup ? Math.round(size * 0.68) : size}px ${SERIF}`;
  const widths = runs.map((r) => {
    ctx.font = fontOf(r);
    return ctx.measureText(r.t).width;
  });
  const total = widths.reduce((a, b) => a + b, 0);
  let cx = align === "center" ? x - total / 2 : x;
  ctx.fillStyle = color;
  ctx.textAlign = "left";
  ctx.textBaseline = "alphabetic";
  runs.forEach((r, i) => {
    ctx.font = fontOf(r);
    ctx.fillText(r.t, cx, r.sup ? y - size * 0.42 : y);
    cx += widths[i];
  });
}

const decorPlugin = {
  id: "decor",
  afterDraw(chart: any) {
    const { ctx, chartArea: a } = chart;
    const xs = chart.scales.x;
    const ys = chart.scales.y;
    ctx.save();

    // inward ticks on all four sides
    ctx.strokeStyle = "#262626";
    ctx.lineWidth = 1.5;
    const seg = (x1: number, y1: number, x2: number, y2: number) => {
      ctx.beginPath();
      ctx.moveTo(x1, y1);
      ctx.lineTo(x2, y2);
      ctx.stroke();
    };
    for (let v = 0; v <= X_MAX; v += xMinorStep) {
      const px = xs.getPixelForValue(v);
      const len = xMajorTicks.includes(v) ? 11 : 7;
      seg(px, a.bottom, px, a.bottom - len);
      seg(px, a.top, px, a.top + len);
    }
    for (let v = Y_MIN; v <= Y_MAX; v += yMinorStep) {
      const py = ys.getPixelForValue(v);
      const len = yMajorTicks.includes(v) ? 11 : 7;
      seg(a.left, py, a.left + len, py);
      seg(a.right, py, a.right - len, py);
    }
    // frame
    ctx.lineWidth = 2;
    ctx.strokeRect(a.left, a.top, a.right - a.left, a.bottom - a.top);

    // axis titles
    ctx.fillStyle = "#000";
    ctx.font = `52px ${SERIF}`;
    ctx.textAlign = "center";
    ctx.textBaseline = "alphabetic";
    ctx.fillText(xTitle, 1063, 875);
    ctx.save();
    ctx.translate(54, 391);
    ctx.rotate(-Math.PI / 2);
    ctx.font = `51px ${SERIF}`;
    ctx.fillText(yTitle, 0, 0);
    ctx.restore();

    // legend
    const legendY = [59, 120, 181, 243];
    legendItems.forEach((it, i) => {
      const ly = legendY[i];
      ctx.strokeStyle = it.color;
      ctx.lineWidth = 10;
      ctx.lineCap = "butt";
      seg(273, ly, 409, ly);
      drawRuns(ctx, [{ t: it.label }, { t: it.symbol, italic: true }], 436, ly + 11, 40, it.color, "left");
    });

    // parameter annotations
    drawRuns(ctx, [{ t: "𝒯", italic: true }, { t: "  = 0.279  (" }, { t: "λ", italic: true }, { t: " = 1.45)" }], 540, 342, 47, "#000", "center");
    drawRuns(ctx, [{ t: "α", italic: true }, { t: " = 0.06 [" }, { t: "m", italic: true }, { t: "2", sup: true }, { t: "/" }, { t: "s", italic: true }, { t: "]" }], 541, 420, 47, "#000", "center");

    // before / after shut-in arrow
    const ay = ys.getPixelForValue(arrowLevel);
    const xl = xs.getPixelForValue(arrowLeftDay);
    const xr = xs.getPixelForValue(arrowRightDay);
    ctx.strokeStyle = "#222";
    ctx.fillStyle = "#222";
    ctx.lineWidth = 3;
    seg(xl + 20, ay, xr - 20, ay);
    const head = (tip: number, dir: number) => {
      ctx.beginPath();
      ctx.moveTo(tip, ay);
      ctx.lineTo(tip + dir * 34, ay - 11);
      ctx.lineTo(tip + dir * 24, ay);
      ctx.lineTo(tip + dir * 34, ay + 11);
      ctx.closePath();
      ctx.fill();
    };
    head(xl, 1);
    head(xr, -1);
    const ty = ys.getPixelForValue(phaseLabelLevel);
    ctx.fillStyle = "#000";
    ctx.font = `42px ${SERIF}`;
    ctx.textAlign = "center";
    ctx.fillText(beforeLabel, xs.getPixelForValue(beforeLabelDay), ty);
    ctx.fillText(afterLabel, xs.getPixelForValue(afterLabelDay), ty);

    ctx.restore();
  },
};

export default function App() {
  const ref = useRef<HTMLCanvasElement>(null);
  useEffect(() => {
    const events = [
      ...pairs(eventsEarly),
      ...pairs(eventsDay2to4),
      ...pairs(eventsDay5to7),
      ...pairs(eventsDay7to10),
      ...pairs(eventsDay10to12),
      ...pairs(eventsDay12to15),
      ...pairs(eventsAfterShutIn),
    ];
    const lineBase = { showLine: true, pointRadius: 0, pointHoverRadius: 0, fill: false, cubicInterpolationMode: "monotone" as const, borderCapStyle: "butt" as const };
    const chart = new Chart(ref.current as HTMLCanvasElement, {
      type: "scatter",
      data: {
        datasets: [
          { label: "Locking front, B(t)", data: zipXY(lockDays, lockDist), borderColor: "#FF0000", borderWidth: 10, order: 1, ...lineBase },
          { label: "Pore pressure back front, P(t)", data: zipXY(poreDays, poreDist), borderColor: "#0000FF", borderWidth: 10, order: 2, ...lineBase },
          { label: "Rupture front, R(t)", data: zipXY(ruptureDays, ruptureDist), borderColor: "#000000", borderWidth: 10, order: 3, ...lineBase },
          { label: "Overpressure front, L(t)", data: zipXY(overDays, overDist), borderColor: "#00FFFF", borderWidth: 9, borderDash: [12, 12], order: 4, ...lineBase },
          { label: "Shut-in", data: [{ x: shutInDay, y: Y_MAX }, { x: shutInDay, y: Y_MIN }], borderColor: "#808080", borderWidth: 8, borderDash: [12, 11], order: 5, showLine: true, pointRadius: 0, fill: false },
          { label: "Events", data: events, showLine: false, pointStyle: "circle", pointRadius: 5.4, pointBorderWidth: 1.3, borderWidth: 1.3, pointBorderColor: "#FF8800", borderColor: "#FF8800", pointBackgroundColor: "rgba(0,0,0,0)", backgroundColor: "rgba(0,0,0,0)", order: 6, clip: 0 } as any,
        ],
      },
      options: {
        animation: false,
        responsive: false,
        devicePixelRatio: 1,
        events: [],
        layout: { padding: { left: 0, top: 5, right: 3, bottom: 0 } },
        plugins: { legend: { display: false }, tooltip: { enabled: false }, title: { display: false } },
        scales: {
          x: {
            type: "linear",
            min: X_MIN,
            max: X_MAX,
            grid: { display: false, drawTicks: false },
            border: { display: false },
            afterBuildTicks: (s: any) => {
              s.ticks = xMajorTicks.map((v) => ({ value: v }));
            },
            afterFit: (s: any) => {
              s.height = 145;
              s.paddingLeft = 0;
              s.paddingRight = 0;
            },
            ticks: { autoSkip: false, maxRotation: 0, padding: 18, color: "#000", font: { family: SERIF, size: 46 }, callback: (v: any) => String(v) },
          },
          y: {
            type: "linear",
            min: Y_MIN,
            max: Y_MAX,
            grid: { display: false, drawTicks: false },
            border: { display: false },
            afterBuildTicks: (s: any) => {
              s.ticks = yMajorTicks.map((v) => ({ value: v }));
            },
            afterFit: (s: any) => {
              s.width = 184;
              s.paddingTop = 0;
              s.paddingBottom = 0;
            },
            ticks: { autoSkip: false, padding: 11, color: "#000", font: { family: SERIF, size: 46 }, callback: (v: any) => String(v) },
          },
        },
      },
      plugins: [decorPlugin],
    });
    return () => chart.destroy();
  }, []);
  return (
    <div style={{ position: "absolute", left: 0, top: 0, width: 2025, height: 887, background: "#fff" }}>
      <canvas ref={ref} width={2025} height={887} style={{ display: "block", width: 2025, height: 887 }} />
    </div>
  );
}
